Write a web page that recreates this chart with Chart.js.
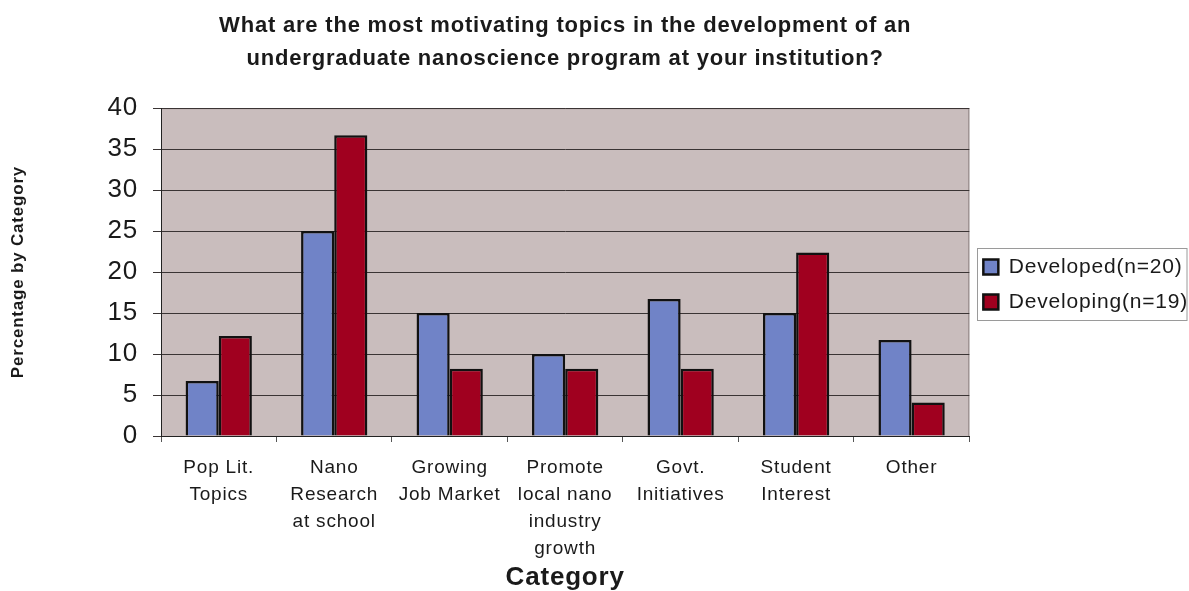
<!DOCTYPE html>
<html>
<head>
<meta charset="utf-8">
<script src="https://cdn.jsdelivr.net/npm/chart.js@4"></script>
<style>
  html, body { margin: 0; padding: 0; background: #fff; }
  #wrap { width: 1189px; height: 591px; }
</style>
</head>
<body>
<div id="wrap"><canvas id="topicsChart" width="1189" height="591"></canvas></div>
<script>
const categories = [
  ['Pop Lit.', 'Topics'],
  ['Nano', 'Research', 'at school'],
  ['Growing', 'Job Market'],
  ['Promote', 'local nano', 'industry', 'growth'],
  ['Govt.', 'Initiatives'],
  ['Student', 'Interest'],
  ['Other']
];
const developed = [6.7, 25, 15, 10, 16.7, 15, 11.7];
const developing = [12.2, 36.7, 8.2, 8.2, 8.2, 22.4, 4.1];
const yTicks = [0, 5, 10, 15, 20, 25, 30, 35, 40];

const FONT = "'Liberation Sans', Arial, sans-serif";
const TEXT = '#1a1a1a';

// slightly looser letter spacing for every label on the canvas
const spacing = {
  id: 'spacing',
  beforeUpdate(chart) { chart.ctx.letterSpacing = '0.8px'; },
  beforeDraw(chart) { chart.ctx.letterSpacing = '0.8px'; }
};

// grey plot background + frame, outline round the legend entries
const plotFrame = {
  id: 'plotFrame',
  beforeDraw(chart) {
    const a = chart.chartArea;
    const c = chart.ctx;
    c.save();
    c.fillStyle = '#c9bdbd';
    c.fillRect(a.left, a.top, a.right - a.left, a.bottom - a.top);
    c.strokeStyle = '#8a8080';
    c.lineWidth = 1;
    c.strokeRect(a.left + 0.5, a.top + 0.5, a.right - a.left - 1, a.bottom - a.top);
    c.restore();
  },
  afterDraw(chart) {
    const lg = chart.legend;
    if (!lg || !lg.legendHitBoxes.length) return;
    const boxes = lg.legendHitBoxes;
    const first = boxes[0];
    const last = boxes[boxes.length - 1];
    const c = chart.ctx;
    c.save();
    c.strokeStyle = '#9a9a9a';
    c.lineWidth = 1;
    const x0 = Math.round(first.left - 6) + 0.5;
    const y0 = Math.round(first.top - 9) + 0.5;
    const y1 = Math.round(last.top + last.height + 7) + 0.5;
    c.strokeRect(x0, y0, chart.width - 2 - x0, y1 - y0);
    c.restore();
  }
};

new Chart(document.getElementById('topicsChart'), {
  type: 'bar',
  data: {
    labels: categories,
    datasets: [
      {
        label: 'Developed(n=20)',
        data: developed,
        backgroundColor: '#7083c7',
        borderColor: '#111',
        borderWidth: 2.5
      },
      {
        label: 'Developing(n=19)',
        data: developing,
        backgroundColor: '#a0001f',
        borderColor: '#111',
        borderWidth: 2.5
      }
    ]
  },
  options: {
    responsive: false,
    animation: false,
    layout: { padding: { left: 0, right: -9, top: 0, bottom: 0 } },
    datasets: {
      bar: { categoryPercentage: 0.574, barPercentage: 1.0, borderSkipped: 'start' }
    },
    plugins: {
      title: {
        display: true,
        fullSize: false,
        text: [
          'What are the most motivating topics in the development of an',
          'undergraduate nanoscience program at your institution?'
        ],
        color: TEXT,
        font: { family: FONT, size: 22, weight: 'bold', lineHeight: 1.48 },
        padding: { top: 10, bottom: 33 }
      },
      legend: {
        position: 'right',
        align: 'center',
        fullSize: false,
        title: { display: true, text: '', padding: { top: 13, bottom: 0 }, font: { size: 10 } },
        labels: {
          color: TEXT,
          font: { family: FONT, size: 21 },
          boxWidth: 15,
          boxHeight: 15,
          padding: 14
        }
      },
      tooltip: { enabled: false }
    },
    scales: {
      x: {
        grid: {
          drawOnChartArea: false,
          drawTicks: true,
          tickLength: 6,
          color: '#555'
        },
        border: { display: true, color: '#222', width: 1 },
        ticks: {
          color: TEXT,
          font: { family: FONT, size: 19, lineHeight: 1.42 },
          maxRotation: 0,
          autoSkip: false,
          padding: 12
        },
        title: {
          display: true,
          text: 'Category',
          color: TEXT,
          font: { family: FONT, size: 26, weight: 'bold', lineHeight: 1.0 },
          padding: { top: 0, bottom: 0 }
        },
        afterFit(scale) { scale.height = 155; }
      },
      y: {
        min: 0,
        max: 40,
        afterBuildTicks(scale) { scale.ticks = yTicks.map(v => ({ value: v })); },
        grid: {
          color: '#3a3434',
          lineWidth: 1,
          tickLength: 8,
          drawTicks: true
        },
        border: { display: true, color: '#222', width: 1 },
        ticks: {
          color: TEXT,
          font: { family: FONT, size: 26 },
          padding: 15
        },
        title: {
          display: true,
          text: 'Percentage by Category',
          color: TEXT,
          font: { family: FONT, size: 17, weight: 'bold' },
          padding: { top: 8, bottom: 0 }
        },
        afterFit(scale) { scale.width = 161; }
      }
    }
  },
  plugins: [spacing, plotFrame]
});
</script>
</body>
</html>
